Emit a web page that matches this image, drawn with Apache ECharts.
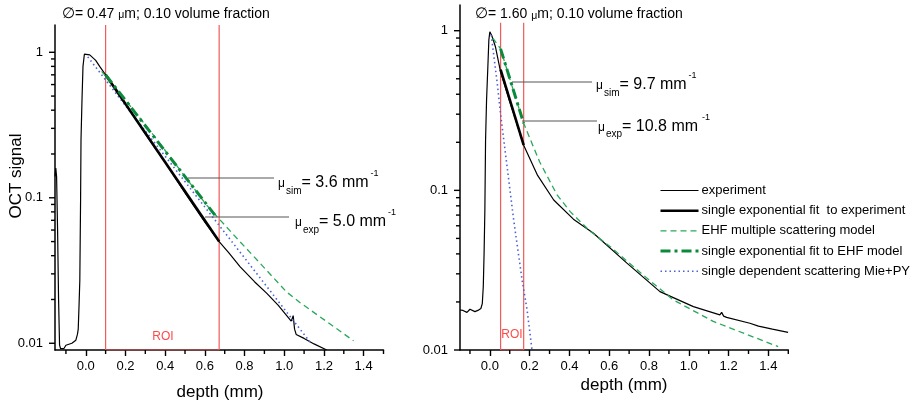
<!DOCTYPE html>
<html><head><meta charset="utf-8">
<script src="https://cdn.jsdelivr.net/npm/echarts@6/dist/echarts.min.js"></script>
<style>html,body{margin:0;padding:0;background:#fff}#c{width:922px;height:406px}</style>
</head><body><div id="c"></div>
<script>
// ---------- tick values ----------
const xMajorTicks = [0, 0.2, 0.4, 0.6, 0.8, 1.0, 1.2, 1.4];
const xMinorTicks = [-0.1, 0.1, 0.3, 0.5, 0.7, 0.9, 1.1, 1.3, 1.5];
const yMajorTicks = [0.01, 0.1, 1];
const yMinorTicks = [0.02,0.03,0.04,0.05,0.06,0.07,0.08,0.09,0.2,0.3,0.4,0.5,0.6,0.7,0.8,0.9];

// ---------- legend names ----------
const names = ['experiment', 'single exponential fit  to experiment', 'EHF multiple scattering model',
  'single exponential fit to EHF model', 'single dependent scattering Mie+PY'];

// ---------- left panel (0.47 um) ----------
const expL = [[-0.155,0.14],[-0.151,0.16],[-0.147,0.14],[-0.142,0.06],[-0.137,0.02],[-0.132,0.0097],[-0.127,0.0092],
  [-0.11,0.0092],[-0.105,0.0094],[-0.1,0.0097],[-0.09,0.0098],[-0.07,0.0100],[-0.05,0.0105],[-0.042,0.0115],
  [-0.038,0.0125],[-0.034,0.018],[-0.03,0.027],[-0.026,0.1],[-0.024,0.25],[-0.019,0.47],[-0.014,0.8],[-0.007,0.97],
  [0,1.0],[0.02,0.96],[0.05,0.88],[0.07,0.80],[0.1,0.70],[0.2,0.445],[0.3,0.275],[0.4,0.175],[0.5,0.108],[0.6,0.068],
  [0.672,0.050],[0.72,0.042],[0.777,0.0336],[0.85,0.0265],[0.911,0.0221],[0.97,0.0182],[1.035,0.0142],[1.045,0.0155],
  [1.052,0.0125],[1.06,0.0115],[1.1,0.0108],[1.15,0.0099],[1.214,0.009]];
const fitExpL = [[0.1,0.70],[0.672,0.05]];
const ehfL = [[0.08,0.74],[0.2,0.47],[0.35,0.26],[0.5,0.14],[0.609,0.089],[0.743,0.056],[0.878,0.0355],[1.012,0.0225],
  [1.08,0.019],[1.214,0.0141],[1.349,0.0104]];
const ehfFitL = [[0.1,0.70],[0.651,0.076]];
const mieL = [[0.01,0.93],[0.2,0.43],[0.4,0.193],[0.6,0.0863],[0.8,0.0386],[1.0,0.0172],[1.13,0.0102]];
const roiL = [0.1, 0.672];

// ---------- right panel (1.60 um) ----------
const expR = [[-0.15,0.0178],[-0.135,0.0177],[-0.115,0.0172],[-0.1,0.018],[-0.09,0.0176],[-0.075,0.0174],[-0.06,0.0177],
  [-0.045,0.0182],[-0.038,0.0195],[-0.033,0.025],[-0.029,0.04],[-0.025,0.0755],[-0.0215,0.207],[-0.0165,0.368],
  [-0.01,0.595],[-0.005,0.875],[0,0.985],[0.01,0.93],[0.0285,0.79],[0.054,0.553],[0.1,0.36],[0.17,0.192],[0.24,0.124],
  [0.321,0.087],[0.42,0.066],[0.521,0.0539],[0.689,0.035],[0.855,0.0232],[1.023,0.0187],[1.156,0.0166],[1.165,0.0172],
  [1.175,0.0163],[1.19,0.016],[1.307,0.0147],[1.35,0.0141],[1.42,0.0135],[1.499,0.0129]];
const fitExpR = [[0.054,0.57],[0.17,0.192]];
const ehfR = [[0.015,0.9],[0.054,0.77],[0.1,0.5],[0.17,0.263],[0.25,0.151],[0.338,0.0936],[0.404,0.0736],[0.5,0.056],
  [0.605,0.0444],[0.789,0.0282],[0.922,0.0206],[1.123,0.0151],[1.3,0.0124],[1.449,0.0105]];
const ehfFitR = [[0.054,0.77],[0.17,0.263]];
const mieR = [[0.007,0.94],[0.037,0.47],[0.054,0.30],[0.07,0.207],[0.12,0.065],[0.162,0.0275],[0.187,0.0179],[0.212,0.01]];
const roiR = [0.054, 0.17];
const roiTopR = 1.12;

// ---------- axis ranges ----------
const xRangeL = [-0.155, 1.5];
const xRangeR = [-0.15, 1.5];
const yRangeL = [0.00899, 1.54];
const yRangeR = [0.01, 1.449];

const FONT = '"Liberation Sans", Arial, sans-serif';
const RED = '#f05a5a';

function xAxis(gi, range) {
  return {
    type: 'value', gridIndex: gi, min: range[0], max: range[1],
    axisLine: {onZero: false, lineStyle: {color: '#000', width: 1.5}},
    splitLine: {show: false},
    axisTick: {customValues: xMajorTicks, length: 6, lineStyle: {color: '#000', width: 1.4}},
    axisLabel: {customValues: xMajorTicks, formatter: v => (+v).toFixed(1), color: '#000', fontSize: 13, fontFamily: FONT, margin: 10}
  };
}
function yAxis(gi, range) {
  return {
    type: 'log', logBase: 10, gridIndex: gi, min: range[0], max: range[1],
    axisLine: {show: true, onZero: false, lineStyle: {color: '#000', width: 1.5}},
    splitLine: {show: false}, axisTick: {show: false},
    axisLabel: {customValues: yMajorTicks, formatter: v => String(+(+v).toPrecision(3)), color: '#000', fontSize: 13, fontFamily: FONT, margin: 12}
  };
}

function line(name, data, gi, style, z) {
  return {
    type: 'line', name, data, xAxisIndex: gi, yAxisIndex: gi, symbol: 'none', showSymbol: false,
    lineStyle: style, itemStyle: {color: style.color}, z: z, silent: true, animation: false
  };
}
// tick marks placed through the axes' own scales (pixel length only is style)
function tickSeries(gi, data, dir, len) {
  return {
    type: 'custom', coordinateSystem: 'cartesian2d', xAxisIndex: gi, yAxisIndex: gi, silent: true, animation: false, clip: false, z: 20,
    data,
    renderItem: (params, api) => {
      const p = api.coord([api.value(0), api.value(1)]);
      const shape = dir === 'y'
        ? {x1: p[0] - len, y1: p[1], x2: p[0], y2: p[1]}
        : {x1: p[0], y1: p[1], x2: p[0], y2: p[1] + len};
      return {type: 'line', shape, style: {stroke: '#000', lineWidth: 1.4}};
    }
  };
}
const S = {
  exp: {color: '#000', width: 1.2, type: 'solid'},
  fit: {color: '#000', width: 2.6, type: 'solid'},
  ehf: {color: '#2aa85a', width: 1.3, type: [6, 4]},
  ehfFit: {color: '#0c8a3c', width: 3, type: [10, 4, 3, 4]},
  mie: {color: '#4a62d6', width: 1.6, type: [1.5, 3]},
  roi: {color: RED, width: 1.2, type: 'solid'}
};

const series = [];
function roiLines(gi, roi, yMin, yTop) {
  const edges = [
    [[roi[0], yMin], [roi[0], yTop]],
    [[roi[1], yMin], [roi[1], yTop]],
    [[roi[0], yMin], [roi[1], yMin]]
  ];
  edges.forEach((ed, i) => series.push(line('ROI' + gi + i, ed, gi, S.roi, 1)));
}
function panel(gi, d) {
  roiLines(gi, d.roi, d.yRange[0], d.yTop);
  series.push(line(names[0], d.exp, gi, S.exp, 2));
  series.push(line(names[4], d.mie, gi, S.mie, 3));
  series.push(line(names[2], d.ehf, gi, S.ehf, 4));
  series.push(line(names[1], d.fit, gi, S.fit, 5));
  series.push(line(names[3], d.ehfFit, gi, S.ehfFit, 6));
  series.push(tickSeries(gi, yMajorTicks.filter(v => v >= d.yRange[0] && v <= d.yRange[1]).map(v => [d.xRange[0], v]), 'y', 6));
  series.push(tickSeries(gi, yMinorTicks.filter(v => v >= d.yRange[0] && v <= d.yRange[1]).map(v => [d.xRange[0], v]), 'y', 4));
  series.push(tickSeries(gi, xMinorTicks.filter(v => v >= d.xRange[0] && v <= d.xRange[1]).map(v => [v, d.yRange[0]]), 'x', 4));
}
panel(0, {exp: expL, fit: fitExpL, ehf: ehfL, ehfFit: ehfFitL, mie: mieL, roi: roiL, xRange: xRangeL, yRange: yRangeL, yTop: yRangeL[1]});
panel(1, {exp: expR, fit: fitExpR, ehf: ehfR, ehfFit: ehfFitR, mie: mieR, roi: roiR, xRange: xRangeR, yRange: yRangeR, yTop: roiTopR});

// ---------- text graphics ----------
const g = [];
function txt(x, y, text, size, opts) {
  g.push(Object.assign({type: 'text', x, y, silent: true, z: 100, style: Object.assign({
    text, fontSize: size, fontFamily: FONT, fill: '#000', textAlign: 'left', textVerticalAlign: 'middle'}, opts || {})}));
}
function hline(x1, x2, y) {
  g.push({type: 'line', silent: true, z: 90, shape: {x1, y1: y, x2, y2: y}, style: {stroke: '#555', lineWidth: 1}});
}
function muLabel(x, y, sub, val) {
  txt(x, y + 1, 'μ', 12);
  txt(x + 8, y + 8, sub, 10);
  const subW = sub === 'sim' ? 15.5 : 16;
  txt(x + 8 + subW, y, val, 16);
  const valW = val.length > 8 ? 80 : 69;
  txt(x + 8 + subW + valW, y - 9, '-1', 9);
}
function title(x, y, d) {
  g.push({type: 'text', x, y, silent: true, z: 100, style: {
    text: '{o|∅}{t|= ' + d + ' }{u|μ}{t|m; 0.10 volume fraction}', fontFamily: FONT, fill: '#000', textVerticalAlign: 'middle',
    rich: {o: {fontSize: 15, fontFamily: FONT}, t: {fontSize: 14, fontFamily: FONT, verticalAlign: 'bottom'},
           u: {fontSize: 10.5, fontFamily: FONT, verticalAlign: 'bottom'}}}});
}
title(62, 13.5, '0.47');
title(475, 14, '1.60');
// annotations left
hline(188, 274, 178); muLabel(278, 183, 'sim', '= 3.6 mm');
hline(205, 289, 217); muLabel(295, 222, 'exp', '= 5.0 mm');
// annotations right
hline(512, 592, 82); muLabel(596, 85, 'sim', '= 9.7 mm');
hline(522, 597, 121); muLabel(598, 126.5, 'exp', '= 10.8 mm');
// ROI labels
txt(163, 337, 'ROI', 12, {fill: '#ff4a4a', textAlign: 'center'});
txt(512, 335, 'ROI', 12, {fill: '#ff4a4a', textAlign: 'center'});
// y axis name
g.push({type: 'text', x: 16, y: 176, rotation: Math.PI / 2, silent: true, z: 100, style: {
  text: 'OCT signal', fontSize: 17, fontFamily: FONT, fill: '#000', textAlign: 'center', textVerticalAlign: 'middle'}});
// x axis names
txt(220, 392, 'depth (mm)', 17, {textAlign: 'center'});
txt(624, 385, 'depth (mm)', 17, {textAlign: 'center'});

const legendWidths = [1.2, 2.6, 1.3, 3, 1.6];
const legendStyles = [S.exp, S.fit, S.ehf, S.ehfFit, S.mie];

const chart = echarts.init(document.getElementById('c'), null, {renderer: 'canvas'});
chart.setOption({
  animation: false,
  backgroundColor: '#fff',
  grid: [
    {left: 55, top: 25, width: 328.5, height: 325, containLabel: false},
    {left: 460, top: 5, width: 328.3, height: 345, containLabel: false}
  ],
  xAxis: [xAxis(0, xRangeL), xAxis(1, xRangeR)],
  yAxis: [yAxis(0, yRangeL), yAxis(1, yRangeR)],
  legend: {
    orient: 'vertical', left: 659, top: 184, padding: 0, itemWidth: 38, itemHeight: 12, itemGap: 7.2,
    data: names.map((n, i) => ({name: n, lineStyle: {width: legendWidths[i], type: legendStyles[i].type, color: legendStyles[i].color}})),
    selectedMode: false,
    itemStyle: {opacity: 0},
    textStyle: {fontSize: 13, fontFamily: FONT, color: '#000', padding: [0, 0, 0, -2]}
  },
  series,
  graphic: g
});
</script></body></html>
